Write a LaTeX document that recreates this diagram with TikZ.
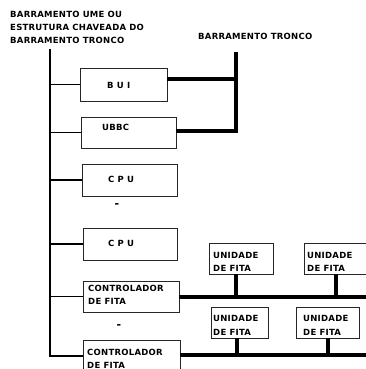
\documentclass[tikz,border=0pt]{standalone}
\usepackage{fontspec}
\newfontfamily\lblfont[LetterSpace=3]{DejaVu Sans Bold}
\begin{document}
\begin{tikzpicture}[x=1pt,y=-1pt,
  box/.style={draw=black!85,line width=0.8pt,rectangle,inner sep=0pt,minimum width=#1},
  thinline/.style={line width=1.4pt},
  thickline/.style={line width=4pt,line join=miter},
  lbl/.style={font=\lblfont\fontsize{8.5}{10}\selectfont,inner sep=0pt,anchor=west},
  dot/.style={font=\lblfont\fontsize{11}{12}\selectfont,inner sep=0pt}]
\clip (0,0) rectangle (366,369);
\fill[white] (0,0) rectangle (366,369);
% title texts
\node[lbl] (t1) at (10,14) {BARRAMENTO UME OU};
\node[lbl] (t2) at (10,27) {ESTRUTURA CHAVEADA DO};
\node[lbl] (t3) at (10,40) {BARRAMENTO TRONCO};
\node[lbl] (t4) at (198,36) {BARRAMENTO TRONCO};
% boxes
\node[box=87pt,minimum height=33pt] (bui) at (123.5,84.5) {};
\node[box=95pt,minimum height=31pt] (ubbc) at (128.5,132.5) {};
\node[box=95pt,minimum height=32pt] (cpua) at (129.5,180) {};
\node[box=94pt,minimum height=32pt] (cpub) at (130,244) {};
\node[box=96pt,minimum height=31pt] (ctla) at (131,296.5) {};
\node[box=97pt,minimum height=32pt] (ctlb) at (131.5,356) {};
\node[box=64pt,minimum height=31pt] (ua) at (241,258.5) {};
\node[box=68pt,minimum height=31pt] (ub) at (338,258.5) {};
\node[box=57pt,minimum height=31pt] (uc) at (239.5,322.5) {};
\node[box=63pt,minimum height=31pt] (ud) at (327.5,322.5) {};
% box labels
\node[lbl] (lbui) at (107,85) {B U I};
\node[lbl] (lubbc) at (102,127) {UBBC};
\node[lbl] (lcpua) at (108,179) {C P U};
\node[lbl] (lcpub) at (108,243) {C P U};
\node[lbl] (lctla1) at (88,288) {CONTROLADOR};
\node[lbl] (lctla2) at (88,301) {DE FITA};
\node[lbl] (lctlb1) at (87,352) {CONTROLADOR};
\node[lbl] (lctlb2) at (87,365) {DE FITA};
\node[lbl] (lua1) at (213,255) {UNIDADE};
\node[lbl] (lua2) at (213,268) {DE FITA};
\node[lbl] (lub1) at (307,255) {UNIDADE};
\node[lbl] (lub2) at (307,268) {DE FITA};
\node[lbl] (luc1) at (213,318) {UNIDADE};
\node[lbl] (luc2) at (213,332) {DE FITA};
\node[lbl] (lud1) at (303,318) {UNIDADE};
\node[lbl] (lud2) at (303,332) {DE FITA};
\node[dot] (d1) at (117,206) {-};
\node[dot] (d2) at (119,327) {-};
% left bus
\coordinate (bustop) at (50,49);
\coordinate (busbot) at (50,357);
\draw[thinline] (bustop) -- (busbot);
\foreach \n in {bui,ubbc,cpua,cpub,ctla,ctlb}
  \draw[thinline] (\n.west -| bustop) -- (\n.west);
% trunk
\coordinate (trtop) at (236,52);
\draw[thickline] ([yshift=1.5pt]ubbc.east) -| (trtop);
\draw[thickline] ([yshift=5.5pt]bui.east) -- ([yshift=5.5pt]bui.east -| trtop);
% tape buses
\coordinate (bend) at (370,296);
\draw[thickline] (ctla.east) -- (ctla.east -| bend);
\draw[thickline] ([xshift=-5pt]ua.south) -- ([xshift=-5pt]ua.south |- ctla.east);
\draw[thickline] ([xshift=-2pt]ub.south) -- ([xshift=-2pt]ub.south |- ctla.east);
\draw[thickline] ([yshift=1pt]ctlb.east) -- ([yshift=1pt]ctlb.east -| bend);
\draw[thickline] ([xshift=-2.5pt]uc.south) -- ([xshift=-2.5pt,yshift=1pt]uc.south |- ctlb.east);
\draw[thickline] (ud.south) -- ([yshift=1pt]ud.south |- ctlb.east);
\end{tikzpicture}
\end{document}
